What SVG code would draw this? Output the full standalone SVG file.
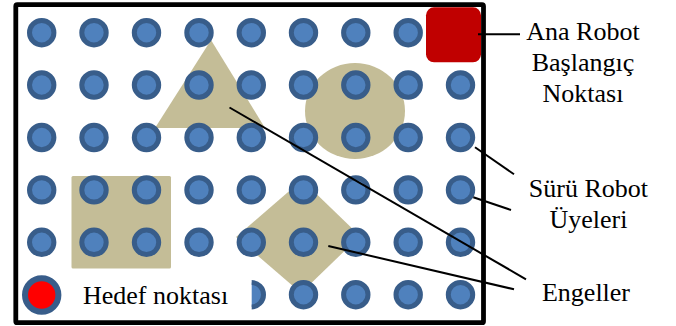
<svg xmlns="http://www.w3.org/2000/svg" xmlns:xlink="http://www.w3.org/1999/xlink" width="676" height="326" viewBox="0 0 676 326">
  <style>
    .obst { fill: #C4BD97; }
    .bot { fill: #4F81BD; stroke: #385D8A; stroke-width: 5; }
    .lead { stroke: #000; stroke-width: 2; fill: none; }
    .lbl { font-family: 'Liberation Serif', 'Times New Roman', serif; font-size: 26px; fill: #000; }
    .mid { text-anchor: middle; }
  </style>
  <defs>
    <circle id="r" r="12.2" class="bot"/>
    <clipPath id="halfClip"><rect x="251.7" y="270" width="30" height="50"/></clipPath>
  </defs>
  <rect width="676" height="326" fill="#fff"/>

  <g id="obstacles">
    <polygon id="triangle" class="obst" points="211,40 155,128 265,128"/>
    <ellipse id="round" class="obst" cx="355" cy="111" rx="50" ry="48"/>
    <rect id="square" class="obst" x="71.5" y="176" width="99.5" height="92.5" rx="1.5"/>
    <polygon id="diamond" class="obst" points="236,237 302,180 360,236 301,293"/>
  </g>

  <g id="swarm">
    <use xlink:href="#r" x="41.7" y="32.7"/><use xlink:href="#r" x="94" y="32.7"/><use xlink:href="#r" x="146.5" y="32.7"/><use xlink:href="#r" x="199" y="32.7"/><use xlink:href="#r" x="251.3" y="32.7"/><use xlink:href="#r" x="303.5" y="32.7"/><use xlink:href="#r" x="355.8" y="32.7"/><use xlink:href="#r" x="408.2" y="32.7"/>
    <use xlink:href="#r" x="41.7" y="85"/><use xlink:href="#r" x="94" y="85"/><use xlink:href="#r" x="146.5" y="85"/><use xlink:href="#r" x="199" y="85"/><use xlink:href="#r" x="251.3" y="85"/><use xlink:href="#r" x="303.5" y="85"/><use xlink:href="#r" x="355.8" y="85"/><use xlink:href="#r" x="408.2" y="85"/><use xlink:href="#r" x="460.5" y="85"/>
    <use xlink:href="#r" x="41.7" y="137.5"/><use xlink:href="#r" x="94" y="137.5"/><use xlink:href="#r" x="146.5" y="137.5"/><use xlink:href="#r" x="199" y="137.5"/><use xlink:href="#r" x="251.3" y="137.5"/><use xlink:href="#r" x="303.5" y="137.5"/><use xlink:href="#r" x="355.8" y="137.5"/><use xlink:href="#r" x="408.2" y="137.5"/><use xlink:href="#r" x="460.5" y="137.5"/>
    <use xlink:href="#r" x="41.7" y="189.9"/><use xlink:href="#r" x="94" y="189.9"/><use xlink:href="#r" x="146.5" y="189.9"/><use xlink:href="#r" x="199" y="189.9"/><use xlink:href="#r" x="251.3" y="189.9"/><use xlink:href="#r" x="303.5" y="189.9"/><use xlink:href="#r" x="355.8" y="189.9"/><use xlink:href="#r" x="408.2" y="189.9"/><use xlink:href="#r" x="460.5" y="189.9"/>
    <use xlink:href="#r" x="41.7" y="242.3"/><use xlink:href="#r" x="94" y="242.3"/><use xlink:href="#r" x="146.5" y="242.3"/><use xlink:href="#r" x="199" y="242.3"/><use xlink:href="#r" x="251.3" y="242.3"/><use xlink:href="#r" x="303.5" y="242.3"/><use xlink:href="#r" x="355.8" y="242.3"/><use xlink:href="#r" x="408.2" y="242.3"/><use xlink:href="#r" x="460.5" y="242.3"/>
    <g clip-path="url(#halfClip)"><use xlink:href="#r" x="251.3" y="294.7"/></g>
    <use xlink:href="#r" x="303.5" y="294.7"/><use xlink:href="#r" x="355.8" y="294.7"/><use xlink:href="#r" x="408.2" y="294.7"/><use xlink:href="#r" x="460.5" y="294.7"/>
  </g>

  <g id="target">
    <circle cx="41.7" cy="295" r="16.7" fill="#FF0000" stroke="#385D8A" stroke-width="6"/>
    <text class="lbl" x="83" y="304">Hedef noktası</text>
  </g>

  <g id="frame">
    <rect x="15.8" y="4.7" width="467.7" height="318" fill="none" stroke="#000" stroke-width="4.8" rx="1.5"/>
  </g>

  <g id="start">
    <rect x="426" y="7.3" width="55" height="55" rx="8" fill="#C00000"/>
  </g>

  <g id="connectors">
    <line class="lead" x1="478" y1="34.3" x2="520" y2="34.3"/>
    <line class="lead" x1="475" y1="147.3" x2="514" y2="174.3"/>
    <line class="lead" x1="473.3" y1="197.3" x2="511" y2="210"/>
    <line class="lead" x1="229.5" y1="107.5" x2="526" y2="279.3"/>
    <line class="lead" x1="328.3" y1="246" x2="514" y2="289.3"/>
  </g>

  <g id="labels">
    <g id="label-start">
      <text class="lbl mid" x="583" y="39.5">Ana Robot</text>
      <text class="lbl mid" x="583" y="71">Başlangıç</text>
      <text class="lbl mid" x="583" y="102">Noktası</text>
    </g>
    <g id="label-swarm">
      <text class="lbl mid" x="588.4" y="197.3">Sürü Robot</text>
      <text class="lbl mid" x="588.4" y="228.3">Üyeleri</text>
    </g>
    <g id="label-obstacles">
      <text class="lbl mid" x="586" y="301">Engeller</text>
    </g>
  </g>
</svg>
